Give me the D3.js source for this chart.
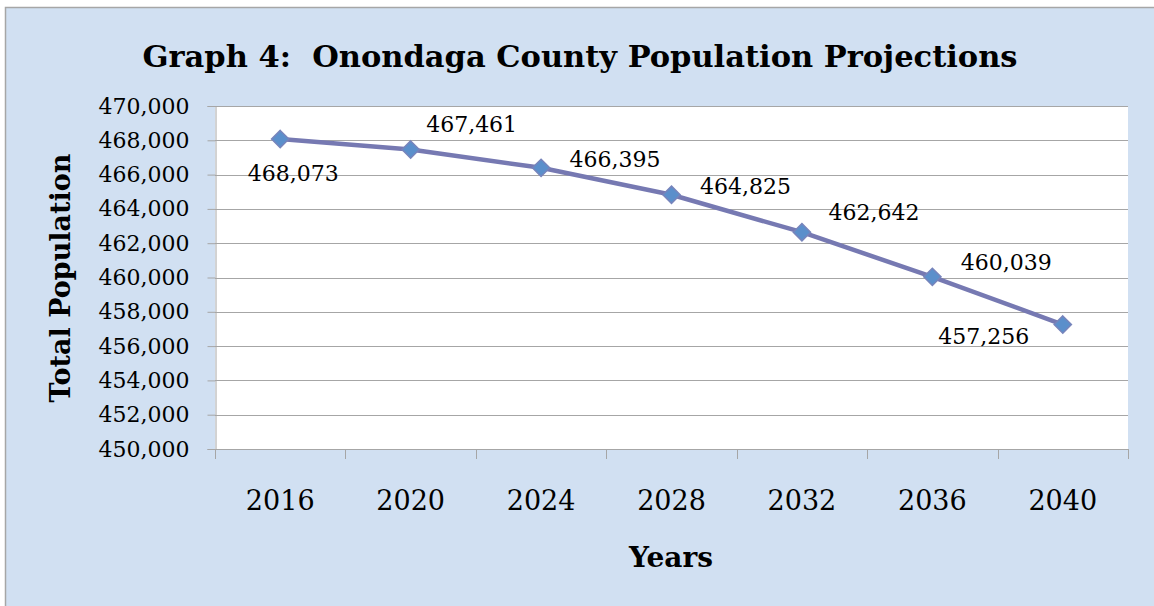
<!DOCTYPE html>
<html>
<head>
<meta charset="utf-8">
<script src="https://cdn.jsdelivr.net/npm/d3@7"></script>
<style>
  html, body { margin: 0; padding: 0; background: #ffffff; }
  svg { display: block; }
  text { font-family: "DejaVu Serif", "Liberation Serif", serif; fill: #000; }
</style>
</head>
<body>
<svg id="chart" width="1154" height="606"></svg>
<script>
// ---- data ----
const years = ["2016", "2020", "2024", "2028", "2032", "2036", "2040"];
const population = [468073, 467461, 466395, 464825, 462642, 460039, 457256];
const yTicks = [450000, 452000, 454000, 456000, 458000, 460000, 462000, 464000, 466000, 468000, 470000];
const titleText = "Graph 4:  Onondaga County Population Projections";
const xTitle = "Years";
const yTitle = "Total Population";
// label placement (offsets of the data labels relative to their points)
const labelOffsets = [[13, 34], [61, -25], [74, -8], [74, -8], [72, -20], [74, -14], [-79, 12]];

// ---- layout ----
const svg = d3.select("#chart");
const W = 1154, H = 606;
const plot = { left: 215, top: 106, right: 1128, bottom: 449 };

// chart area background + border
svg.append("rect").attr("x", 0).attr("y", 0).attr("width", W).attr("height", H).attr("fill", "#ffffff");
svg.append("rect")
  .attr("x", 5.5).attr("y", 7.5).attr("width", W + 20).attr("height", H + 20)
  .attr("fill", "#d1e0f2").attr("stroke", "#a6a6a6").attr("stroke-width", 1.5);

// plot area
svg.append("rect")
  .attr("x", plot.left).attr("y", plot.top)
  .attr("width", plot.right - plot.left).attr("height", plot.bottom - plot.top)
  .attr("fill", "#ffffff");

const x = d3.scaleBand().domain(years).range([plot.left, plot.right]).padding(0);
const y = d3.scaleLinear().domain([450000, 470000]).range([plot.bottom, plot.top]);

// gridlines
svg.append("g").selectAll("line").data(yTicks.filter(d => d !== 450000)).join("line")
  .attr("x1", plot.left).attr("x2", plot.right)
  .attr("y1", d => Math.round(y(d)) + 0.5).attr("y2", d => Math.round(y(d)) + 0.5)
  .attr("stroke", "#a6a6a6").attr("stroke-width", 1);

// y axis
const fmt = d3.format(",");
const yAxis = svg.append("g")
  .attr("transform", `translate(${plot.left + 0.5},0)`)
  .call(d3.axisLeft(y).tickValues(yTicks).tickFormat(fmt).tickSize(8).tickPadding(18));
yAxis.select(".domain").attr("stroke", "#a6a6a6");
yAxis.selectAll(".tick line").attr("stroke", "#a6a6a6");
yAxis.selectAll(".tick text")
  .attr("font-family", "DejaVu Serif").attr("font-size", 22).attr("fill", "#000");

// x axis
const xAxis = svg.append("g")
  .attr("transform", `translate(0,${plot.bottom + 0.5})`)
  .call(d3.axisBottom(x).tickSize(0).tickPadding(41));
xAxis.select(".domain").attr("stroke", "#a6a6a6").attr("d", `M${plot.left},0H${plot.right}`);
xAxis.selectAll(".tick text")
  .attr("font-family", "DejaVu Serif").attr("font-size", 27).attr("fill", "#000");
// category boundary ticks
const bounds = years.map(d => x(d)).concat([x(years[years.length - 1]) + x.bandwidth()]);
svg.append("g").selectAll("line").data(bounds).join("line")
  .attr("x1", d => Math.round(d) + 0.5).attr("x2", d => Math.round(d) + 0.5)
  .attr("y1", plot.bottom).attr("y2", plot.bottom + 10)
  .attr("stroke", "#a6a6a6").attr("stroke-width", 1);

// line
const cx = d => x(d) + x.bandwidth() / 2;
const pts = years.map((d, i) => [cx(d), y(population[i])]);
svg.append("path")
  .datum(pts)
  .attr("d", d3.line())
  .attr("fill", "none").attr("stroke", "#7679b2").attr("stroke-width", 4.5)
  .attr("stroke-linejoin", "round");

// markers
svg.append("g").selectAll("path").data(pts).join("path")
  .attr("transform", d => `translate(${d[0]},${d[1]})`)
  .attr("d", d3.symbol().type(d3.symbolDiamond2).size(190))
  .attr("fill", "#5b8fcb").attr("stroke", "#7784bb").attr("stroke-width", 1.5);

// data labels
svg.append("g").selectAll("text").data(pts).join("text")
  .attr("x", (d, i) => d[0] + labelOffsets[i][0])
  .attr("y", (d, i) => d[1] + labelOffsets[i][1])
  .attr("text-anchor", "middle").attr("dominant-baseline", "central")
  .attr("font-size", 22)
  .text((d, i) => fmt(population[i]));

// titles
svg.append("text")
  .attr("x", 580).attr("y", 67).attr("text-anchor", "middle")
  .style("white-space", "pre")
  .attr("font-family", "DejaVu Serif").attr("font-weight", "bold")
  .attr("font-size", 30.5)
  .text(titleText);

svg.append("text")
  .attr("x", 671).attr("y", 567).attr("text-anchor", "middle")
  .attr("font-family", "DejaVu Serif").attr("font-weight", "bold")
  .attr("font-size", 28)
  .text(xTitle);

svg.append("text")
  .attr("transform", "translate(70,278) rotate(-90)").attr("text-anchor", "middle")
  .attr("font-family", "DejaVu Serif").attr("font-weight", "bold")
  .attr("font-size", 27)
  .text(yTitle);
</script>
</body>
</html>
